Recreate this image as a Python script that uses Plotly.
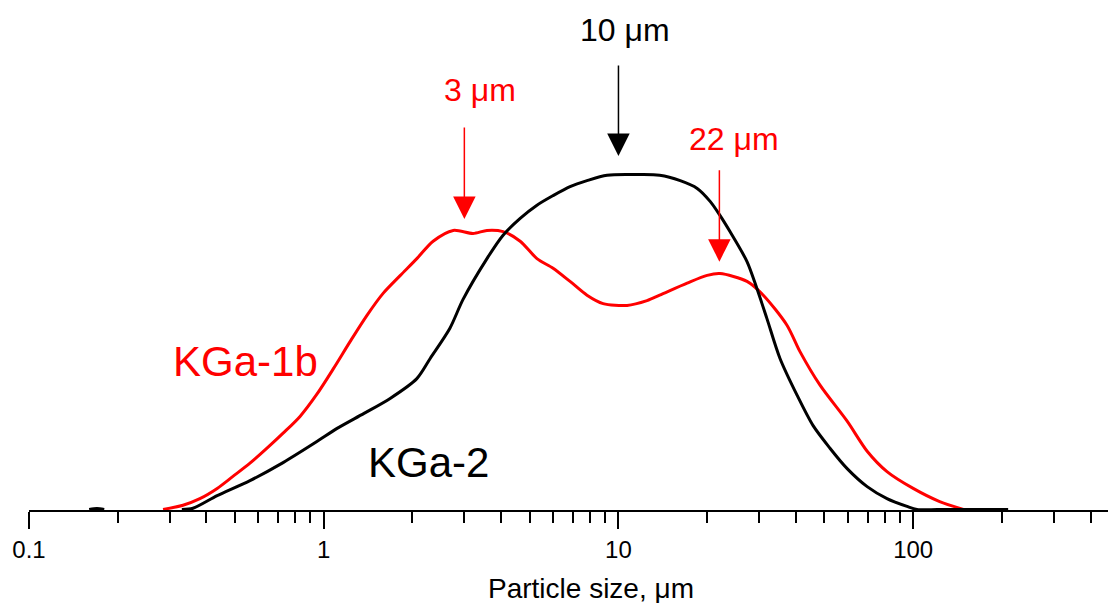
import numpy as np
import plotly.graph_objects as go

# Particle size distributions (volume-based, arbitrary units)
kga1b_size = [0.285, 0.333, 0.380, 0.435, 0.492, 0.562, 0.642, 0.728, 0.831, 0.948,
              1.08, 1.23, 1.40, 1.59, 1.82, 2.07, 2.35, 2.75, 3.21,
              3.58, 4.06, 4.64, 5.29, 6.00, 6.85, 7.82, 8.87, 10.7, 12.5,
              13.8, 17.1, 20.0, 22.1, 27.3, 31.0, 37.3, 41.3, 48.3, 59.7,
              69.8, 81.5, 100, 123, 148]
kga1b_vol = [0.0, 0.07, 0.18, 0.35, 0.55, 0.77, 1.02, 1.27, 1.55, 1.92,
             2.35, 2.80, 3.23, 3.60, 3.90, 4.18, 4.47, 4.65, 4.60,
             4.65, 4.63, 4.47, 4.18, 4.02, 3.80, 3.57, 3.43, 3.40, 3.48,
             3.57, 3.77, 3.90, 3.93, 3.80, 3.57, 3.07, 2.63, 2.07, 1.47,
             0.97, 0.63, 0.35, 0.13, 0.0]

kga2_size = [0.16, 0.17, 0.18, None, 0.33, 0.360, 0.435, 0.562, 0.728, 0.948,
             1.11, 1.37, 1.68, 2.07, 2.30, 2.68, 2.97,
             3.58, 4.06, 4.64, 5.29, 6.00, 6.85, 7.82, 9.15, 11.6, 13.8,
             16.2, 18.5, 20.5, 22.1, 23.9, 27.3, 29.5, 31.9, 35.3, 40.4,
             45.7, 52.2, 59.7, 69.8, 81.5, 95.3, 103, 130, 170, 210]
kga2_vol = [0.0, 0.015, 0.0, None, 0.0, 0.02, 0.23, 0.48, 0.78, 1.13,
            1.35, 1.60, 1.85, 2.18, 2.52, 3.02, 3.50,
            4.18, 4.57, 4.85, 5.07, 5.23, 5.38, 5.48, 5.57, 5.58, 5.57,
            5.48, 5.35, 5.13, 4.90, 4.63, 4.13, 3.68, 3.18, 2.52, 1.90,
            1.40, 1.02, 0.68, 0.38, 0.18, 0.05, 0.0, 0.0, 0.0, 0.0]

# Modal sizes marked with arrows
mode_labels = ["10 μm", "3 μm", "22 μm"]
mode_sizes = [10, 3, 22]
mode_series = ["KGa-2", "KGa-1b", "KGa-1b"]

tick_vals = [0.1, 1, 10, 100]
tick_text = ["0.1", "1", "10", "100"]
minor_vals = [m * 10.0 ** k for k in range(-1, 3) for m in range(2, 10) if m * 10.0 ** k < 460]

RED = "#FF0000"
BLACK = "#000000"
FONT = "Arial, Liberation Sans, sans-serif"

series = {
    "KGa-1b": (kga1b_size, kga1b_vol, RED),
    "KGa-2": (kga2_size, kga2_vol, BLACK),
}


def value_at(sizes, vals, s):
    pts = [(np.log10(a), b) for a, b in zip(sizes, vals) if a is not None and a > 0.3]
    xs, ys = zip(*pts)
    return float(np.interp(np.log10(s), xs, ys))


fig = go.Figure()
for name in ["KGa-1b", "KGa-2"]:
    sz, vol, col = series[name]
    fig.add_trace(go.Scatter(
        x=sz, y=vol, mode="lines", name=name,
        line=dict(color=col, width=3, shape="spline", smoothing=0.8),
        connectgaps=False, showlegend=False, hoverinfo="skip",
    ))

annotations = []
# arrow geometry per mode: (tail offset px, standoff px), label position (paper) and size
arrow_geom = [(-111, 19), (-106, 13), (-105, 12)]
label_pos = [(0.5524, 1 - 30 / 510, 32), (0.4180, 1 - 90 / 510, 32), (0.6535, 1 - 139 / 510, 32)]
for lab, s, ser, (ay, so), (lx, ly, fs) in zip(mode_labels, mode_sizes, mode_series,
                                                arrow_geom, label_pos):
    sz, vol, col = series[ser]
    annotations.append(dict(
        x=np.log10(s), y=value_at(sz, vol, s), xref="x", yref="y",
        text="", showarrow=True, arrowhead=2, arrowsize=3.0, arrowwidth=1.5,
        arrowcolor=col, ax=0, ay=ay, standoff=so,
    ))
    annotations.append(dict(
        x=lx, y=ly, xref="paper", yref="paper", text=lab, showarrow=False,
        xanchor="center", yanchor="middle", font=dict(size=fs, color=col, family=FONT),
    ))

# Series names written next to the curves
annotations.append(dict(x=0.2002, y=1 - 361 / 510, xref="paper", yref="paper",
                        text="KGa-1b", showarrow=False, xanchor="center", yanchor="middle",
                        font=dict(size=42, color=RED, family=FONT)))
annotations.append(dict(x=0.3698, y=1 - 462 / 510, xref="paper", yref="paper",
                        text="KGa-2", showarrow=False, xanchor="center", yanchor="middle",
                        font=dict(size=42, color=BLACK, family=FONT)))
# Axis title
annotations.append(dict(x=0.5209, y=1 - 588 / 510, xref="paper", yref="paper",
                        text="Particle size, μm", showarrow=False, xanchor="center",
                        yanchor="middle", font=dict(size=28, color=BLACK, family=FONT)))

fig.update_layout(
    width=1108, height=603,
    margin=dict(l=29, r=0, t=0, b=93),
    paper_bgcolor="white", plot_bgcolor="white",
    annotations=annotations,
    xaxis=dict(
        type="log", range=[-1, 2.661],
        showgrid=False, zeroline=False,
        showline=True, linecolor=BLACK, linewidth=2,
        ticks="outside", ticklen=17, tickwidth=2, tickcolor=BLACK,
        tickmode="array", tickvals=tick_vals, ticktext=tick_text,
        tickfont=dict(size=24, color=BLACK, family=FONT),
        minor=dict(ticks="outside", ticklen=11, tickwidth=2, tickcolor=BLACK,
                   tickmode="array", tickvals=minor_vals, showgrid=False),
    ),
    yaxis=dict(visible=False, range=[-0.01, 8.49], showgrid=False, zeroline=False),
)

fig.write_html("out.html")
